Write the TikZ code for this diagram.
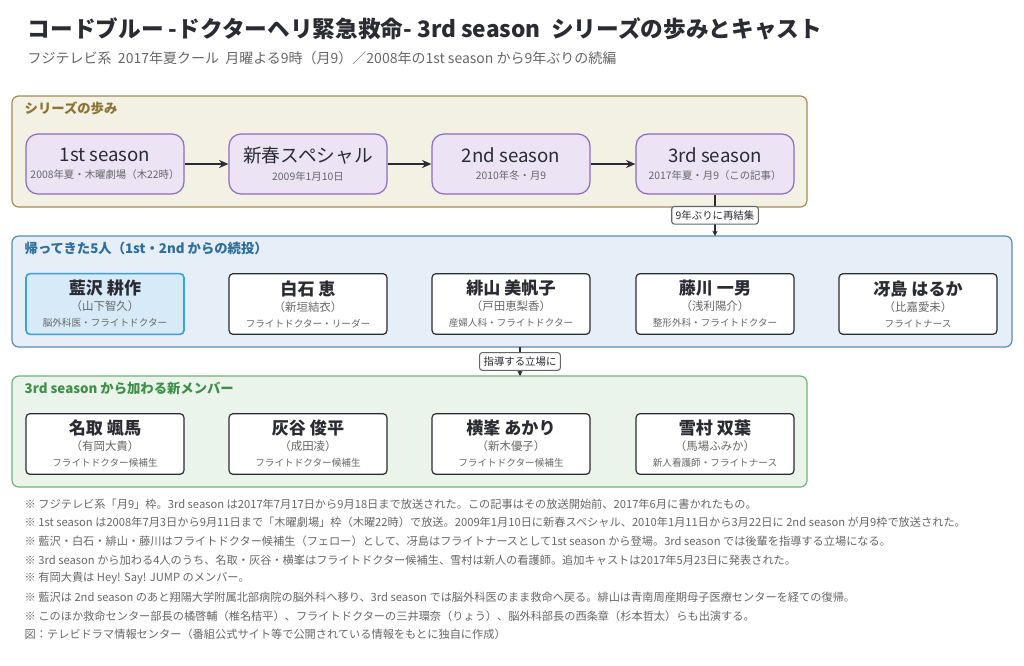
\documentclass[tikz,border=0pt]{standalone}
\usepackage{fontspec}
\setmainfont{Noto Sans CJK JP}
\usetikzlibrary{positioning,arrows.meta}
\definecolor{ink}{HTML}{2B2B33}
\definecolor{subgray}{HTML}{666666}
\definecolor{sandfill}{HTML}{F3F0E4}
\definecolor{sandline}{HTML}{A08C55}
\definecolor{sandtext}{HTML}{8A7433}
\definecolor{lilacfill}{HTML}{ECE4F5}
\definecolor{lilacline}{HTML}{8A6BBF}
\definecolor{bluefill}{HTML}{E6EFF7}
\definecolor{blueline}{HTML}{5B8AB0}
\definecolor{bluetext}{HTML}{2F6D9C}
\definecolor{greenfill}{HTML}{EAF4EA}
\definecolor{greenline}{HTML}{6FB27A}
\definecolor{greentext}{HTML}{3F8F4A}
\definecolor{hifill}{HTML}{D6EAF8}
\definecolor{hiline}{HTML}{3BA0E0}
\tikzset{
  panel/.style={draw, rounded corners=5pt, line width=0.9pt},
  panellabel/.style={anchor=west, font=\fontsize{10}{12}\selectfont\bfseries},
  season/.style={draw=lilacline, fill=lilacfill, rounded corners=9pt, line width=0.9pt,
    minimum width=118.5pt, minimum height=45pt, align=center, text=ink},
  cast/.style={draw=ink, fill=white, rounded corners=3pt, line width=0.9pt,
    minimum width=118.5pt, minimum height=45.5pt, align=center, text=ink},
  hicast/.style={cast, draw=hiline, fill=hifill, line width=1.2pt},
  tag/.style={draw=subgray, fill=white, rounded corners=2pt, inner sep=3pt,
    font=\fontsize{7.8}{9}\selectfont, text=ink},
  flow/.style={-{Stealth[length=7pt,width=6pt]}, line width=1.1pt, draw=ink},
  note/.style={anchor=west, font=\fontsize{8.4}{9}\selectfont, text=subgray}
}
\newcommand{\seasontxt}[2]{{\fontsize{14}{16}\selectfont #1}\\[1pt]{\fontsize{7.8}{9}\selectfont\color{subgray}#2}}
\newcommand{\casttxt}[3]{{\fontsize{12.8}{15}\selectfont\bfseries #1}\\[0pt]{\fontsize{8.6}{10}\selectfont\color{subgray}#2}\\[0pt]{\fontsize{7.2}{8}\selectfont\color{subgray}#3}}
\begin{document}
\begin{tikzpicture}[x=0.75pt, y=-0.75pt]
  \useasboundingbox (0,0) rectangle (1024,665);
  % Title
  \node[anchor=west, text=ink, font=\fontsize{17}{20}\selectfont\bfseries] (title) at (23,29)
    {コードブルー -ドクターヘリ緊急救命- 3rd season\ \ シリーズの歩みとキャスト};
  \node[anchor=west, text=subgray, font=\fontsize{10.5}{12}\selectfont] (subtitle) at (23,58)
    {フジテレビ系\ \ 2017年夏クール\ \ 月曜よる9時（月9）／2008年の1st season から9年ぶりの続編};

  % Panels
  \draw[panel, draw=sandline, fill=sandfill] (12,96) rectangle (807,207);
  \node[panellabel, text=sandtext] (lab1) at (20,108) {シリーズの歩み};
  \draw[panel, draw=blueline, fill=bluefill] (12,236) rectangle (1012,347);
  \node[panellabel, text=bluetext] (lab2) at (20,248) {帰ってきた5人（1st・2nd からの続投）};
  \draw[panel, draw=greenline, fill=greenfill] (12,376) rectangle (807,487);
  \node[panellabel, text=greentext] (lab3) at (20,388) {3rd season から加わる新メンバー};

  % Seasons
  \node[season] (s1) at (105,164) {\seasontxt{1st season}{2008年夏・木曜劇場（木22時）}};
  \node[season] (s2) at (308,164) {\seasontxt{新春スペシャル}{2009年1月10日}};
  \node[season] (s3) at (511,164) {\seasontxt{2nd season}{2010年冬・月9}};
  \node[season] (s4) at (715,164) {\seasontxt{3rd season}{2017年夏・月9（この記事）}};
  \draw[flow] (s1) -- (s2);
  \draw[flow] (s2) -- (s3);
  \draw[flow] (s3) -- (s4);

  % Returning cast
  \node[hicast] (aizawa) at (105,304) {\casttxt{藍沢 耕作}{（山下智久）}{脳外科医・フライトドクター}};
  \node[cast] (shiraishi) at (308,304) {\casttxt{白石 恵}{（新垣結衣）}{フライトドクター・リーダー}};
  \node[cast] (hiyama) at (511,304) {\casttxt{緋山 美帆子}{（戸田恵梨香）}{産婦人科・フライトドクター}};
  \node[cast] (fujikawa) at (715,304) {\casttxt{藤川 一男}{（浅利陽介）}{整形外科・フライトドクター}};
  \node[cast] (saejima) at (918,304) {\casttxt{冴島 はるか}{（比嘉愛未）}{フライトナース}};

  % New members
  \node[cast] (natori) at (105,444) {\casttxt{名取 颯馬}{（有岡大貴）}{フライトドクター候補生}};
  \node[cast] (haitani) at (308,444) {\casttxt{灰谷 俊平}{（成田凌）}{フライトドクター候補生}};
  \node[cast] (yokomine) at (511,444) {\casttxt{横峯 あかり}{（新木優子）}{フライトドクター候補生}};
  \node[cast] (yukimura) at (715,444) {\casttxt{雪村 双葉}{（馬場ふみか）}{新人看護師・フライトナース}};

  % Links between panels
  \coordinate (top2) at (715,236);
  \coordinate (bot2) at (520,347);
  \coordinate (top3) at (520,376);
  \draw[flow, line width=0.8pt, -{Stealth[length=4pt,width=4pt]}] (s4) -- node[tag] {9年ぶりに再結集} (top2);
  \draw[flow, line width=0.8pt, -{Stealth[length=4pt,width=4pt]}] (bot2) -- node[tag] {指導する立場に} (top3);

  % Notes
  \node[note] (n1) at (20,504) {※ フジテレビ系「月9」枠。3rd season は2017年7月17日から9月18日まで放送された。この記事はその放送開始前、2017年6月に書かれたもの。};
  \node[note] (n2) at (20,522) {※ 1st season は2008年7月3日から9月11日まで「木曜劇場」枠（木曜22時）で放送。2009年1月10日に新春スペシャル、2010年1月11日から3月22日に 2nd season が月9枠で放送された。};
  \node[note] (n3) at (20,541) {※ 藍沢・白石・緋山・藤川はフライトドクター候補生（フェロー）として、冴島はフライトナースとして1st season から登場。3rd season では後輩を指導する立場になる。};
  \node[note] (n4) at (20,560) {※ 3rd season から加わる4人のうち、名取・灰谷・横峯はフライトドクター候補生、雪村は新人の看護師。追加キャストは2017年5月23日に発表された。};
  \node[note] (n5) at (20,578) {※ 有岡大貴は Hey! Say! JUMP のメンバー。};
  \node[note] (n6) at (20,597) {※ 藍沢は 2nd season のあと翔陽大学附属北部病院の脳外科へ移り、3rd season では脳外科医のまま救命へ戻る。緋山は青南周産期母子医療センターを経ての復帰。};
  \node[note] (n7) at (20,616) {※ このほか救命センター部長の橘啓輔（椎名桔平）、フライトドクターの三井環奈（りょう）、脳外科部長の西条章（杉本哲太）らも出演する。};
  \node[note] (n8) at (20,634) {図：テレビドラマ情報センター（番組公式サイト等で公開されている情報をもとに独自に作成）};
\end{tikzpicture}
\end{document}
